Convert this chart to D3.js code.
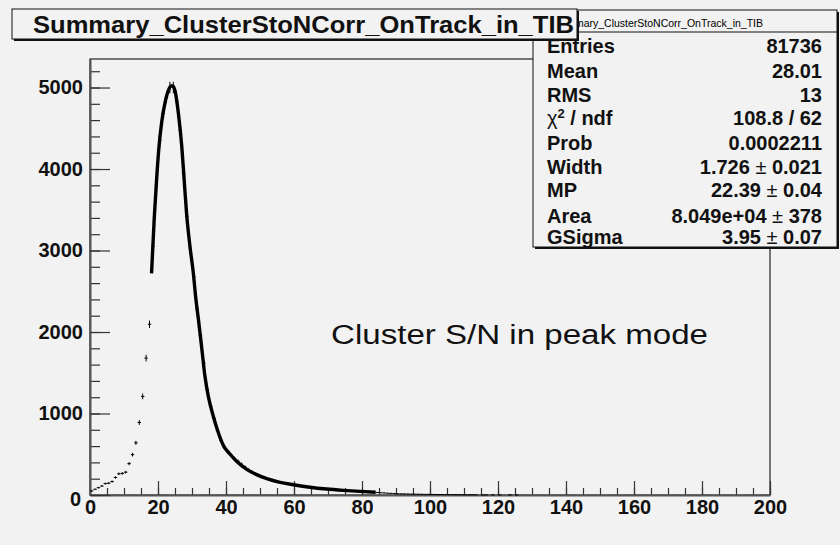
<!DOCTYPE html>
<html>
<head>
<meta charset="utf-8">
<script src="https://d3js.org/d3.v7.min.js"></script>
<style>
  body { margin: 0; background: #f2f2f2; }
  text { font-family: "Liberation Sans", Arial, Helvetica, sans-serif; }
</style>
</head>
<body>
<div id="chart"></div>
<script>

// histogram contents, one value per bin of width 1 starting at 0
var binCounts = [
  50, 70, 90, 110, 140, 145, 165, 215, 260, 265,
  280, 385, 495, 640, 890, 1210, 1680, 2095, 3050, 3800,
  4350, 4680, 4880, 5000, 5000, 4830, 4480, 3950, 3420, 3030,
  2680, 2280, 1960, 1620, 1290, 1090, 940, 790, 670, 580,
  530, 490, 450, 415, 380, 345, 315, 290, 265, 245,
  228, 212, 195, 185, 172, 160, 152, 145, 138, 130,
  124, 116, 110, 104, 97, 92, 88, 84, 79, 75,
  71, 68, 64, 61, 58, 55, 52, 49, 47, 45,
  42, 39, 36, 33, 31, 28, 26, 22, 20, 18,
  15, 14, 13, 12, 11, 10, 10, 9, 8, 8,
  7, 7, 6, 6, 5, 5, 5, 4, 4, 3,
  3, 3, 2, 2, 0, 1, 1, 0, 2, 0,
  1, 0, 0, 1, 0, 1, 0, 0, 0, 0
];
var binStart = 0;
var binWidth = 1;

// Landau (x) Gauss fit curve
var fitX = [18.1, 18.9, 19.6, 20.2, 21.1, 22.1, 23.0, 23.8, 24.4, 25.0,
            26.0, 27.0, 27.7, 28.4, 29.4, 30.4, 31.1, 31.9, 32.9, 33.8,
            34.8, 36.3, 37.7, 39.2, 41.2, 43.1, 46.1, 49.0, 52.0, 55.9,
            59.8, 64.7, 69.6, 74.5, 79.4, 84.0];
var fitY = [2720, 3400, 3880, 4230, 4580, 4820, 4960, 5020, 5020, 4960,
            4682, 4272, 3864, 3456, 3051, 2720, 2420, 2150, 1790, 1460,
            1210, 960, 770, 610, 500, 415, 315, 250, 200, 155,
            126, 95, 73, 57, 44, 33];

var xTicks = [0, 20, 40, 60, 80, 100, 120, 140, 160, 180, 200];
var yTicks = [0, 1000, 2000, 3000, 4000, 5000];

var titleText = "Summary_ClusterStoNCorr_OnTrack_in_TIB";
var noteText = "Cluster S/N in peak mode";
var statLabels = ["Entries", "Mean", "RMS", "chi2", "Prob", "Width", "MP", "Area", "GSigma"];
var statValues = ["81736", "28.01", "13", "108.8 / 62", "0.0002211",
                  "1.726|0.021", "22.39|0.04", "8.049e+04|378", "3.95|0.07"];

var W = 840, H = 545;
var margin = {top: 59, right: 70, bottom: 50, left: 90},
    width = W - margin.left - margin.right,
    height = 495 - margin.top;

var svg = d3.select("#chart")
  .append("svg")
    .attr("width", W)
    .attr("height", H);

svg.append("rect")
    .attr("width", W).attr("height", H)
    .style("fill", "#f2f2f2");

var g = svg.append("g")
    .attr("transform", "translate(" + margin.left + "," + margin.top + ")");

var x = d3.scaleLinear().domain([0, 200]).range([0, width]);
var y = d3.scaleLinear().domain([0, 5350]).range([height, 0]);

// frame
g.append("rect")
    .attr("width", width).attr("height", height)
    .style("fill", "none")
    .style("stroke", "#222")
    .style("stroke-width", 1.2);

// minor ticks
g.append("g")
    .attr("transform", "translate(0," + height + ")")
    .call(d3.axisBottom(x).tickValues(d3.range(0, 201, 5)).tickSize(-7).tickFormat(""))
    .call(function(a) { a.select(".domain").remove(); });
g.append("g")
    .call(d3.axisLeft(y).tickValues(d3.range(0, 5201, 200)).tickSize(-10).tickFormat(""))
    .call(function(a) { a.select(".domain").remove(); });

// major ticks + labels
var xAxis = g.append("g")
    .attr("transform", "translate(0," + height + ")")
    .call(d3.axisBottom(x).tickValues(xTicks).tickSize(-14).tickPadding(5).tickSizeOuter(0)
      .tickFormat(d3.format("d")));
var yAxis = g.append("g")
    .call(d3.axisLeft(y).tickValues(yTicks).tickSize(-20).tickPadding(7).tickSizeOuter(0)
      .tickFormat(d3.format("d")));

g.selectAll(".tick line").style("stroke", "#333").style("stroke-width", 1.2);
g.selectAll(".domain").style("stroke", "#555").style("stroke-width", 2);
g.selectAll(".tick text")
    .style("font-family", "'Liberation Sans', Arial, sans-serif")
    .style("font-weight", "bold")
    .style("font-size", "20px")
    .style("fill", "#111");
yAxis.select(".tick text").attr("dy", "0.5em").attr("x", -9);

// data points drawn as error-bar crosses
var pts = binCounts.map(function(c, i) { return {lo: binStart + i * binWidth, c: c}; })
  .filter(function(d) { return d.c > 0; });

var bars = g.append("g").style("stroke", "#000").style("stroke-width", 1);
bars.selectAll(".h").data(pts).enter().append("line")
    .attr("x1", function(d) { return x(d.lo); })
    .attr("x2", function(d) { return x(d.lo + binWidth); })
    .attr("y1", function(d) { return y(d.c); })
    .attr("y2", function(d) { return y(d.c); });
bars.selectAll(".v").data(pts).enter().append("line")
    .attr("x1", function(d) { return x(d.lo + binWidth / 2); })
    .attr("x2", function(d) { return x(d.lo + binWidth / 2); })
    .attr("y1", function(d) { return y(d.c + Math.sqrt(d.c)); })
    .attr("y2", function(d) { return y(Math.max(0, d.c - Math.sqrt(d.c))); });

// fit curve
var line = d3.line()
    .x(function(d) { return x(d[0]); })
    .y(function(d) { return y(d[1]); })
    .curve(d3.curveMonotoneX);
g.append("path")
    .datum(d3.zip(fitX, fitY))
    .attr("d", line)
    .style("fill", "none")
    .style("stroke", "#000")
    .style("stroke-width", 3.4);

// annotation
svg.append("text")
    .attr("x", 331).attr("y", 344)
    .attr("textLength", 377).attr("lengthAdjust", "spacingAndGlyphs")
    .style("font-size", "27px")
    .style("fill", "#111")
    .text(noteText);

// stats box
var sb = {x: 533, y: 10, w: 304, h: 237};
svg.append("rect")
    .attr("x", sb.x + 2).attr("y", sb.y + 2).attr("width", sb.w).attr("height", sb.h)
    .style("fill", "#111");
svg.append("rect")
    .attr("x", sb.x).attr("y", sb.y).attr("width", sb.w).attr("height", sb.h)
    .style("fill", "#f2f2f2").style("stroke", "#111").style("stroke-width", 1);
svg.append("line")
    .attr("x1", sb.x).attr("x2", sb.x + sb.w).attr("y1", 32).attr("y2", 32)
    .style("stroke", "#111");
svg.append("text")
    .attr("x", 763).attr("y", 27)
    .attr("text-anchor", "end")
    .style("font-size", "10.5px")
    .text(titleText);

var rowBase = [53, 78, 101.5, 125, 150, 174, 197, 222.5, 244];
statLabels.forEach(function(lab, i) {
  var t = svg.append("text")
      .attr("x", 547).attr("y", rowBase[i])
      .style("font-size", "20px").style("font-weight", "bold").style("fill", "#111");
  if (lab === "chi2") {
    t.append("tspan").style("font-weight", "normal").text("\u03c7");
    t.append("tspan").attr("dy", -7).style("font-size", "13px").text("2");
    t.append("tspan").attr("dy", 7).text(" / ndf");
  } else {
    t.text(lab);
  }
  var parts = statValues[i].split("|");
  var v = svg.append("text")
      .attr("x", 822).attr("y", rowBase[i])
      .attr("text-anchor", "end")
      .style("font-size", "20px").style("font-weight", "bold").style("fill", "#111");
  v.append("tspan").text(parts[0]);
  if (parts.length > 1) {
    v.append("tspan").style("font-weight", "normal").text(" \u00b1 ");
    v.append("tspan").text(parts[1]);
  }
});

// title box, drawn over the stats header
svg.append("rect")
    .attr("x", 14).attr("y", 11).attr("width", 565).attr("height", 30)
    .style("fill", "#111");
svg.append("rect")
    .attr("x", 12).attr("y", 9).attr("width", 565).attr("height", 30)
    .style("fill", "#f2f2f2").style("stroke", "#111").style("stroke-width", 1);
svg.append("text")
    .attr("x", 33).attr("y", 33)
    .attr("textLength", 541).attr("lengthAdjust", "spacingAndGlyphs")
    .style("font-size", "24px").style("font-weight", "bold").style("fill", "#111")
    .text(titleText);

</script>
</body>
</html>
